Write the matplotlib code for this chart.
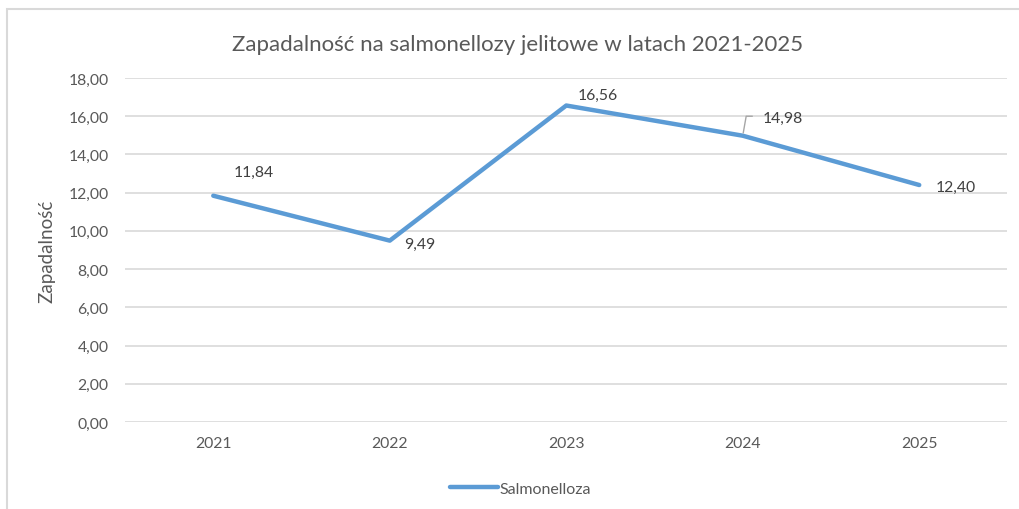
import matplotlib.pyplot as plt
from matplotlib.lines import Line2D
from matplotlib.patches import Rectangle

years = ["2021", "2022", "2023", "2024", "2025"]
incidence = [11.84, 9.49, 16.56, 14.98, 12.40]
yticks = [0, 2, 4, 6, 8, 10, 12, 14, 16, 18]

plt.rcParams['font.family'] = ['Lato', 'DejaVu Sans']

fig = plt.figure(figsize=(10.19, 5.10), dpi=100)
ax = fig.add_axes([0.1227, 0.1706, 0.866, 0.6745])

x = list(range(len(years)))
ax.plot(x, incidence, color='#5B9BD5', lw=3.2, solid_capstyle='round')

ax.set_xlim(-0.5, len(years) - 0.5)
ax.set_ylim(0, 18)
ax.set_yticks(yticks)
ax.set_yticklabels([("%.2f" % v).replace('.', ',') for v in yticks])
ax.set_xticks(x)
ax.set_xticklabels(years)
ax.tick_params(length=0, labelsize=11.3, colors='#595959', pad=10)
ax.tick_params(axis='y', pad=12)
ax.grid(axis='y', color='#D9D9D9', lw=1.2)
ax.set_axisbelow(True)
for s in ax.spines.values():
    s.set_visible(False)

ax.set_ylabel("Zapadalność", fontsize=13.5, color='#595959', labelpad=9)

# data labels
offsets = [(15, 17), (10, -2), (8, 8), (14, 13), (12, -1)]
for xi, v, off in zip(x, incidence, offsets):
    ax.annotate(("%.2f" % v).replace('.', ','), (xi, v), xytext=off,
                textcoords='offset points', fontsize=11.3, color='#404040',
                ha='left', va='center')
# leader line for 2024
ax.annotate("", (3, 14.98), xytext=(3.07, 16.0),
            arrowprops=dict(arrowstyle='-', color='#A6A6A6', lw=1,
                            connectionstyle='angle,angleA=0,angleB=80,rad=0'))

fig.suptitle("Zapadalność na salmonellozy jelitowe w latach 2021-2025",
             x=0.508, y=0.932, fontsize=16, color='#595959')

handle = Line2D([], [], color='#5B9BD5', lw=3.2, solid_capstyle='round')
fig.legend([handle], ["Salmonelloza"], loc='center', bbox_to_anchor=(0.511, 0.04),
           frameon=False, fontsize=11.5, labelcolor='#595959', handlelength=3,
           handletextpad=0.1)

fig.patches.append(Rectangle((7 / 1019, -0.1), 1.2, 1 - 10 / 510 + 0.1,
                             transform=fig.transFigure, fill=False,
                             edgecolor='#D9D9D9', lw=1.5))

fig.savefig("out.png", dpi=100)
